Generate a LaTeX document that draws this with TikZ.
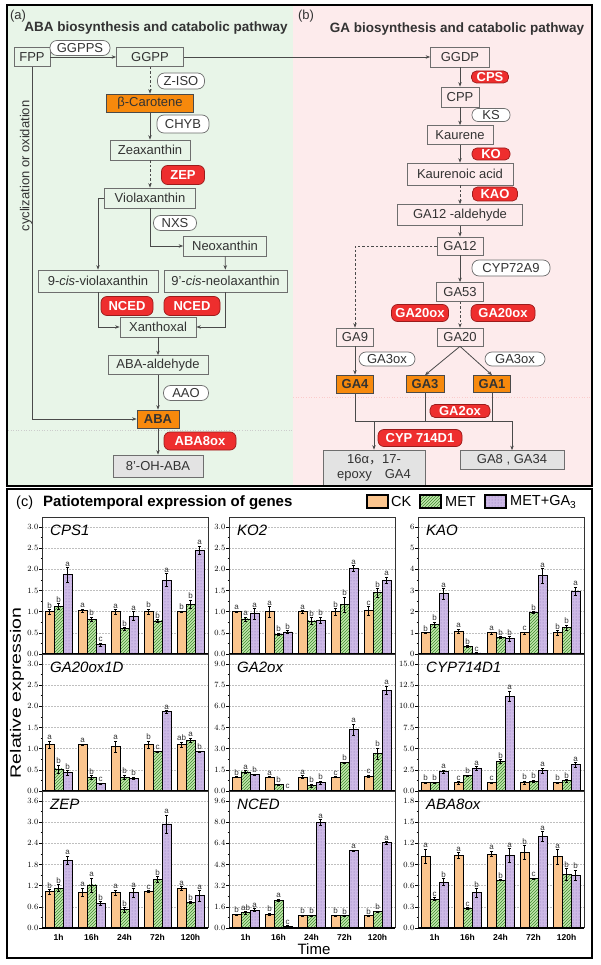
\documentclass[tikz,border=0pt]{standalone}
\usepackage{fontspec}
\setmainfont{Liberation Sans}
\newfontfamily\cjk{Noto Sans CJK SC}
\usepackage{graphicx}
\usetikzlibrary{arrows.meta,patterns}

\definecolor{abagreen}{HTML}{E8F5E8}
\definecolor{gapink}{HTML}{FDEBEC}
\definecolor{boxgray}{HTML}{6E6E6E}
\definecolor{linegray}{HTML}{4A4A4A}
\definecolor{txtdark}{HTML}{333333}
\definecolor{orgfill}{HTML}{F7890C}
\definecolor{hotred}{HTML}{EE2E2E}
\definecolor{hotedge}{HTML}{9B1B1B}
\definecolor{endgray}{HTML}{E3E3E3}
\definecolor{ckfill}{HTML}{FBC58E}
\definecolor{metfill}{HTML}{C3E6AE}
\definecolor{metline}{HTML}{3F8F2F}
\definecolor{gafill}{HTML}{CDB9E6}
\definecolor{gadot}{HTML}{8C74B8}

\newcommand{\boxfont}{\fontsize{13}{15}\selectfont}

\tikzset{
  sz/.style 2 args={minimum width=#1, minimum height=#2},
  cpd/.style={draw=boxgray, line width=0.7pt, inner sep=0pt, font=\boxfont, text=txtdark},
  keycpd/.style={cpd, fill=orgfill, draw=linegray},
  endcpd/.style={cpd, fill=endgray},
  enz/.style={cpd, fill=white, rounded corners=7pt},
  hot/.style={draw=hotedge, fill=hotred, line width=0.7pt, inner sep=0pt, rounded corners=6pt,
    text=white, font=\boxfont\bfseries},
  flow/.style={draw=linegray, line width=0.8pt, -{Stealth[length=4.5pt,width=3.5pt]}},
  dflow/.style={flow, dash pattern=on 2.5pt off 2pt},
  plain/.style={draw=linegray, line width=0.8pt},
  paneltitle/.style={font=\fontsize{13.5}{15}\selectfont\bfseries, text=txtdark},
  ckbar/.style={draw=black, line width=0.7pt, fill=ckfill},
  metbar/.style={draw=black, line width=0.7pt, preaction={fill=metfill}, pattern=north east lines, pattern color=metline},
  gabar/.style={draw=black, line width=0.7pt, preaction={fill=gafill}, pattern=dots, pattern color=gadot},
  gridln/.style={draw=gray!50, line width=0.5pt, dash pattern=on 1.5pt off 1.5pt},
  tickln/.style={draw=black, line width=0.6pt},
  ticklab/.style={anchor=east, inner sep=0pt, font=\fontsize{8.5}{9}\selectfont\bfseries},
  sig/.style={anchor=south, inner sep=0.4pt, font=\fontsize{8}{9}\selectfont, text=txtdark},
  genelab/.style={anchor=west, inner sep=0pt, font=\fontsize{15}{17}\selectfont\itshape},
  panelfr/.style={draw=black!80, line width=0.8pt},
  baseax/.style={draw=black, line width=1.5pt},
  timelab/.style={inner sep=0pt, font=\fontsize{8.5}{9}\selectfont\bfseries},
  keytext/.style={anchor=west, inner sep=0pt, font=\fontsize{14.5}{16}\selectfont},
}

% one bar chart: x0, y of zero line, top tick value, tick step, digits, gene, data
\newcommand{\genepanel}[7]{%
  \pgfmathsetmacro\sc{127/#3}
  \foreach \i in {1,...,6} {
    \pgfmathsetmacro\ty{#2-\i*127/6}
    \draw[gridln] (#1,\ty) -- (#1+166,\ty);
  }
  \foreach \i in {0,...,6} {
    \pgfmathsetmacro\ty{#2-\i*127/6}
    \pgfmathsetmacro\tv{\i*#4}
    \draw[tickln] (#1-3,\ty) -- (#1,\ty);
    \node[ticklab] (tk\i) at (#1-3.5,\ty) {\pgfmathprintnumber[fixed,fixed zerofill,precision=#5]{\tv}};
  }
  \foreach \i in {0,...,5} {
    \pgfmathsetmacro\ty{#2-\i*127/6-127/12}
    \draw[tickln] (#1-1.5,\ty) -- (#1,\ty);
  }
  \foreach \vv/\ee/\sg [count=\k from 0] in {#7} {
    \pgfmathtruncatemacro\grp{int(\k/3)}
    \pgfmathtruncatemacro\bj{\k-3*\grp}
    \pgfmathsetmacro\xa{#1+3+33*\grp+9*\bj}
    \pgfmathsetmacro\xc{\xa+4.5}
    \pgfmathsetmacro\yt{#2-\vv*\sc}
    \pgfmathsetmacro\ye{\ee*\sc}
    \ifcase\bj
      \draw[ckbar] (\xa,#2) rectangle (\xa+9,\yt);
    \or
      \draw[metbar] (\xa,#2) rectangle (\xa+9,\yt);
    \else
      \draw[gabar] (\xa,#2) rectangle (\xa+9,\yt);
    \fi
    \draw[black, line width=0.5pt] (\xc-1.5,\yt-\ye) -- (\xc+1.5,\yt-\ye)
      (\xc,\yt-\ye) -- (\xc,\yt+\ye) (\xc-1.5,\yt+\ye) -- (\xc+1.5,\yt+\ye);
    \node[sig] (sg\k) at (\xc,\yt-\ye-0.5) {\sg};
  }
  \draw[panelfr] (#1,#2) -- (#1,#2-137) -- (#1+166,#2-137) -- (#1+166,#2);
  \draw[baseax] (#1,#2) -- (#1+166,#2);
  \node[genelab] (gn) at (#1+8,#2-124) {#6};
}

\begin{document}
\begin{tikzpicture}[x=1pt,y=-1pt]
\useasboundingbox (0,0) rectangle (600,965);

% backgrounds and frames
\fill[abagreen] (8,6) rectangle (293,485);
\fill[gapink] (293,6) rectangle (591,485);
\draw[gray!40, dotted, line width=0.6pt] (8,430) -- (293,430);
\draw[hotred!25, dotted, line width=0.6pt] (293,397) -- (591,397);

% (a) ABA pathway
\node[font=\boxfont, text=txtdark] (tagA) at (18,16) {(a)};
\node[paneltitle] (titleA) at (156,28) {ABA biosynthesis and catabolic pathway};
\node[cpd, sz={36}{19}] (fpp) at (32,57) {FPP};
\node[enz, sz={60}{15}] (ggpps) at (80,48) {GGPPS};
\node[cpd, sz={67}{19}] (ggpp) at (150,57) {GGPP};
\node[enz, sz={47}{16}] (ziso) at (181,81) {Z-ISO};
\node[keycpd, sz={87}{18}] (bcar) at (150,103) {β-Carotene};
\node[enz, sz={52}{18}] (chyb) at (183,124) {CHYB};
\node[cpd, sz={80}{20}] (zea) at (150,150) {Zeaxanthin};
\node[hot, sz={43}{19}] (zep) at (183,175) {ZEP};
\node[cpd, sz={91}{20}] (vio) at (150,198) {Violaxanthin};
\node[enz, sz={43}{15}] (nxs) at (175,223) {NXS};
\node[cpd, sz={83}{20}] (neo) at (225,246) {Neoxanthin};
\node[cpd, sz={120}{22}] (cvio) at (98,281) {9-\textit{cis}-violaxanthin};
\node[cpd, sz={123}{22}] (cneo) at (225.5,281) {9'-\textit{cis}-neolaxanthin};
\node[hot, sz={52}{19}] (nced1) at (127,306) {NCED};
\node[hot, sz={56}{19}] (nced2) at (192,306) {NCED};
\node[cpd, sz={76}{20}] (xan) at (158,327) {Xanthoxal};
\node[cpd, sz={100}{19}] (abald) at (158,365) {ABA-aldehyde};
\node[enz, sz={45}{15}] (aao) at (186,393) {AAO};
\node[keycpd, sz={42}{18}, font=\boxfont\bfseries] (aba) at (158,419) {ABA};
\node[hot, sz={72}{18}] (aba8ox) at (200,441) {ABA8ox};
\node[endcpd, sz={90}{22}] (ohaba) at (158,466) {8'-OH-ABA};
\node[font=\boxfont, text=txtdark, rotate=90] (cyc) at (26,166) {cyclization or oxidation};

\draw[flow] (fpp) -- (ggpp);
\draw[dflow] (ggpp) -- (bcar);
\draw[flow] (bcar) -- (zea);
\draw[dflow] (zea) -- (vio);
\draw[flow] (vio.west) -| (cvio.north);
\draw[flow] (vio.south) |- (neo.west);
\draw[flow] (neo) -- (cneo);
\draw[flow] (cvio.south) |- (xan.west);
\draw[flow] (cneo.south) |- (xan.east);
\draw[flow] (xan) -- (abald);
\draw[flow] (abald) -- (aba);
\draw[flow] (aba) -- (ohaba);
\draw[flow] (fpp.south) |- (aba.west);

% (b) GA pathway
\node[font=\boxfont, text=txtdark] (tagB) at (306,16) {(b)};
\node[paneltitle] (titleB) at (457,29) {GA biosynthesis and catabolic pathway};
\node[cpd, sz={59}{20}] (ggdp) at (460,57) {GGDP};
\node[hot, sz={37}{12}, rounded corners=5pt] (cps) at (490,77) {CPS};
\node[cpd, sz={38}{20}] (cpp) at (460,97) {CPP};
\node[enz, sz={38}{13}, rounded corners=6pt] (ks) at (491,115) {KS};
\node[cpd, sz={66}{19}] (kau) at (460,135) {Kaurene};
\node[hot, sz={38}{12}, rounded corners=5pt] (ko) at (491,154) {KO};
\node[cpd, sz={106}{22}] (kac) at (460,174) {Kaurenoic acid};
\node[hot, sz={45}{14}, rounded corners=5pt] (kao) at (495,194) {KAO};
\node[cpd, sz={125}{21}] (ga12ald) at (460,215) {GA12 -aldehyde};
\node[cpd, sz={46}{18}] (ga12) at (460,246) {GA12};
\node[enz, sz={78}{16}] (cyp72) at (511,268) {CYP72A9};
\node[cpd, sz={47}{19}] (ga53) at (460,292) {GA53};
\node[hot, sz={57}{17}] (ga20oxa) at (420,313) {GA20ox};
\node[hot, sz={64}{17}] (ga20oxb) at (503,313) {GA20ox};
\node[cpd, sz={46}{18}] (ga20) at (460,337) {GA20};
\node[cpd, sz={37}{18}] (ga9) at (355,337) {GA9};
\node[enz, sz={56}{14}] (ga3oxa) at (387,359) {GA3ox};
\node[enz, sz={60}{14}] (ga3oxb) at (515,359) {GA3ox};
\node[keycpd, sz={37}{18}, font=\boxfont\bfseries] (ga4) at (355,384) {GA4};
\node[keycpd, sz={38}{17}, font=\boxfont\bfseries] (ga3) at (425,384) {GA3};
\node[keycpd, sz={37}{17}, font=\boxfont\bfseries] (ga1) at (492,384) {GA1};
\node[hot, sz={60}{13}, rounded corners=5pt] (ga2ox) at (460,411) {GA2ox};
\node[hot, sz={84}{17}] (cyp714) at (420,438) {CYP 714D1};
\node[endcpd, sz={102}{36}, align=center, font=\fontsize{13}{15}\selectfont] (epoxy) at (374,468) {16α{\cjk ，}17-\\epoxy\quad GA4};
\node[endcpd, sz={104}{19}] (ga834) at (512,460) {GA8 , GA34};
\coordinate (bus) at (512,421);

\draw[flow] (ggpp) -- (ggdp);
\draw[flow] (ggdp) -- (cpp);
\draw[flow] (cpp) -- (kau);
\draw[flow] (kau) -- (kac);
\draw[dflow] (kac) -- (ga12ald);
\draw[flow] (ga12ald) -- (ga12);
\draw[flow] (ga12) -- (ga53);
\draw[dflow] (ga53) -- (ga20);
\draw[dflow] (ga12.west) -| (ga9.north);
\draw[flow] (ga9) -- (ga4);
\draw[flow] (ga20.south) -- (ga3.north);
\draw[flow] (ga20.south) -- (ga1.north);
\draw[flow, line width=1pt] (ga4.south) |- (bus) -- (ga834.north);
\draw[plain] (ga3.south) -- (ga3.south |- bus);
\draw[plain] (ga1.south) -- (ga1.south |- bus);
\draw[flow] (epoxy.north |- bus) -- (epoxy.north);

\draw[black, line width=2pt] (7,5) rectangle (592,486);

% (c) expression charts
\fill[white] (7,489) rectangle (592,958);
\node[anchor=west, inner sep=0pt, font=\fontsize{14.5}{16}\selectfont] (tagC) at (16,503) {(c)};
\node[anchor=west, inner sep=0pt, font=\fontsize{15}{17}\selectfont\bfseries] (titleC) at (43,503) {Patiotemporal expression of genes};
\draw[ckbar, line width=1.2pt] (367,495) rectangle (388,508);
\node[keytext] (keyck) at (391,502) {CK};
\draw[metbar, line width=1.2pt] (420,495) rectangle (441,508);
\node[keytext] (keymet) at (445,502) {MET};
\draw[gabar, line width=1.2pt] (485,495) rectangle (506,508);
\node[keytext] (keyga) at (510,502) {MET+GA\textsubscript{3}};

\genepanel{42}{654}{3}{0.5}{1}{CPS1}{1.0/0.05/b,1.13/0.07/b,1.87/0.18/a,
  1.02/0.04/a,0.82/0.05/b,0.22/0.04/c, 1.0/0.05/a,0.6/0.03/b,0.9/0.1/a,
  1.0/0.06/b,0.78/0.03/b,1.75/0.15/a, 1.0/0.02/b,1.18/0.1/b,2.45/0.1/a}
\genepanel{229}{654}{3}{0.5}{1}{KO2}{1.0/0.02/a,0.83/0.05/a,0.95/0.12/a,
  1.0/0.12/a,0.47/0.03/b,0.52/0.04/b, 1.0/0.03/a,0.78/0.08/b,0.8/0.07/b,
  1.0/0.08/b,1.17/0.18/b,2.02/0.07/a, 1.02/0.1/c,1.45/0.1/b,1.74/0.08/a}
\genepanel{418}{654}{6}{1}{0}{KAO}{1.0/0.03/b,1.4/0.12/b,2.85/0.25/a,
  1.08/0.1/a,0.35/0.05/b,0.05/0.02/c, 1.0/0.05/a,0.78/0.05/b,0.72/0.1/b,
  1.0/0.05/c,1.97/0.05/b,3.7/0.35/a, 1.0/0.1/b,1.25/0.12/b,2.97/0.2/a}
\genepanel{42}{791}{3}{0.5}{1}{GA20ox1D}{1.1/0.08/a,0.52/0.1/b,0.43/0.05/b,
  1.1/0.01/a,0.32/0.05/b,0.17/0.02/c, 1.05/0.13/a,0.33/0.05/b,0.3/0.03/b,
  1.1/0.08/b,0.93/0.02/c,1.87/0.03/a, 1.1/0.06/ab,1.2/0.05/a,0.93/0.02/b}
\genepanel{229}{791}{9}{1.5}{1}{GA2ox}{1.0/0.05/b,1.35/0.1/a,1.17/0.05/b,
  1.0/0.05/a,0.45/0.05/b,0.05/0.02/c, 1.0/0.1/a,0.4/0.1/b,0.6/0.1/b,
  1.0/0.05/c,2.0/0.05/b,4.35/0.4/a, 1.05/0.1/c,2.65/0.4/b,7.15/0.3/a}
\genepanel{418}{791}{15}{2.5}{1}{CYP714D1}{1.0/0.05/b,1.0/0.05/b,2.3/0.2/a,
  1.0/0.15/c,1.8/0.1/b,2.7/0.2/a, 1.0/0.05/c,3.5/0.2/b,11.2/0.6/a,
  1.0/0.2/b,1.15/0.15/b,2.4/0.3/a, 1.0/0.05/b,1.2/0.15/b,3.1/0.3/a}
\genepanel{42}{928}{3.6}{0.6}{1}{ZEP}{1.03/0.06/b,1.13/0.1/b,1.92/0.12/a,
  1.02/0.12/a,1.22/0.2/a,0.7/0.05/b, 1.0/0.08/a,0.52/0.06/b,1.0/0.12/a,
  1.03/0.03/c,1.38/0.08/b,2.95/0.25/a, 1.12/0.05/a,0.72/0.03/b,0.92/0.15/a}
\genepanel{229}{928}{9.6}{1.6}{1}{NCED}{1.0/0.05/b,1.15/0.08/ab,1.35/0.12/a,
  1.05/0.08/b,2.1/0.1/a,0.15/0.05/c, 0.95/0.05/b,0.95/0.05/b,8.0/0.2/a,
  0.95/0.05/b,0.92/0.05/b,5.85/0.05/a, 0.92/0.05/b,1.25/0.05/b,6.45/0.1/a}
\genepanel{418}{928}{1.8}{0.3}{1}{ABA8ox}{1.02/0.1/a,0.41/0.02/c,0.65/0.05/b,
  1.03/0.04/a,0.28/0.01/c,0.5/0.06/b, 1.05/0.04/a,0.68/0.01/b,1.03/0.1/a,
  1.07/0.1/b,0.7/0.01/c,1.3/0.07/a, 1.01/0.1/a,0.76/0.08/b,0.75/0.07/b}

% time axis labels
\foreach \cx in {42,229,418} {
  \foreach \tl [count=\g from 0] in {1h,16h,24h,72h,120h} {
    \node[timelab] (tl\g) at (\cx+16.5+33*\g,937) {\tl};
  }
}
\node[font=\fontsize{15}{17}\selectfont] (timeax) at (314,949) {Time};
\node[rotate=90, font=\fontsize{15}{17}\selectfont] (relax) at (17,693) {\scalebox{1.3}[1]{Relative expression}};

\draw[black, line width=2pt] (7,489) rectangle (592,958);
\end{tikzpicture}
\end{document}
